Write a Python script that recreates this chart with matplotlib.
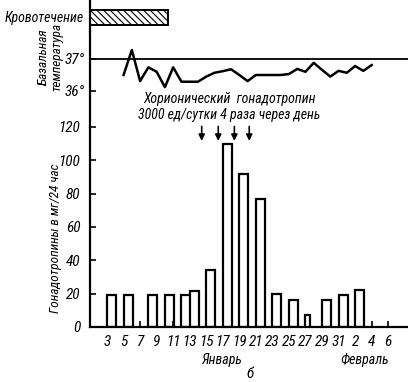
import matplotlib
matplotlib.use("Agg")
import matplotlib.pyplot as plt

plt.rcParams['font.family'] = ['Roboto Condensed', 'DejaVu Sans']
plt.rcParams['font.style'] = 'italic'
plt.rcParams['hatch.linewidth'] = 0.8

# gonadotropins, mg/24 h (day of count, January; 32+ = February)
bar_days = [3, 5, 8, 10, 12, 13, 15, 17, 19, 21, 23, 25, 27, 29, 31, 33]
bar_vals = [19, 19, 19.5, 19, 19, 21.5, 34, 110, 92, 77, 20, 16, 7, 16, 19, 22]

# basal temperature
temp_days = list(range(5, 36))
temp_vals = [36.5, 37.28, 36.31, 36.74, 36.6, 36.12, 36.74, 36.29, 36.29, 36.29,
             36.45, 36.57, 36.62, 36.68, 36.5, 36.31, 36.5, 36.5, 36.5, 36.5,
             36.53, 36.69, 36.6, 36.88, 36.66, 36.45, 36.63, 36.57, 36.78, 36.63,
             36.81]

# bleeding period
bleed_start, bleed_end = 0.94, 10.4

# hCG injections
inject_days = [14.45, 16.45, 18.4, 20.2]

tick_days = list(range(3, 38, 2))
tick_labels = ['3', '5', '7', '9', '11', '13', '15', '17', '19', '21', '23',
               '25', '27', '29', '31', '2', '4', '6']

W, H = 408, 382
fig = plt.figure(figsize=(W / 100, H / 100), dpi=100)

def px_axes(left, top, right, bottom):
    return fig.add_axes([left / W, 1 - bottom / H, (right - left) / W, (bottom - top) / H])

xlim = (0.94, 39.4)

# --- bleeding
ax_b = px_axes(90, 0, 408, 32)
ax_b.set_xlim(*xlim)
ax_b.set_ylim(0, 32)
ax_b.barh(32 - 17.5, bleed_end - bleed_start, height=15, left=bleed_start,
          color='white', edgecolor='black', hatch='\\\\\\\\\\', linewidth=1.4)
ax_b.set_xticks([])
ax_b.set_yticks([])
for s in ['top', 'right', 'bottom']:
    ax_b.spines[s].set_visible(False)
ax_b.spines['left'].set_linewidth(1.6)
fig.text(44 / W, 1 - 18 / H, 'Кровотечение', ha='center', va='center', fontsize=10)

# --- temperature
ax_t = px_axes(90, 32, 408, 127)
ax_t.set_xlim(*xlim)
ax_t.set_ylim(37 - (127 - 59) / 32, 37 + (59 - 32) / 32)
ax_t.plot(temp_days, temp_vals, color='black', lw=1.8)
ax_t.axhline(37, color='black', lw=1.3)
ax_t.set_xticks([])
ax_t.set_yticks([36, 37])
ax_t.set_yticklabels(['36°', '37°'], fontsize=11)
ax_t.tick_params(axis='y', direction='in', length=4, width=1.2, pad=4)
for s in ['top', 'right', 'bottom']:
    ax_t.spines[s].set_visible(False)
ax_t.spines['left'].set_linewidth(1.6)
fig.text(50 / W, 1 - 57 / H, 'Базальная\nтемпература', rotation=90,
         ha='center', va='center', fontsize=9.5, linespacing=1.0)

# --- gonadotropins
ax = px_axes(90, 127, 408, 327)
ax.set_xlim(*xlim)
ax.set_ylim(0, 120)
widths = [0.6 if d == 27 else 1.1 for d in bar_days]
ax.bar(bar_days, bar_vals, width=widths, align='edge', color='white',
       edgecolor='black', linewidth=1.6)
ax.set_xticks(tick_days)
ax.set_xticklabels(tick_labels, fontsize=11)
ax.set_yticks(range(0, 121, 20))
ax.tick_params(axis='y', direction='in', length=4, width=1.2, pad=7, labelsize=11)
ax.tick_params(axis='x', direction='in', length=4, width=1.2, pad=6)
for s in ['top', 'right']:
    ax.spines[s].set_visible(False)
ax.spines['left'].set_linewidth(1.6)
ax.spines['bottom'].set_linewidth(1.6)
fig.text(56 / W, 1 - 238 / H, 'Гонадотропины в мг/24 час', rotation=90,
         ha='center', va='center', fontsize=9.5)

for d in inject_days:
    ax.annotate('', xy=(d, 110), xytext=(d, 122),
                arrowprops=dict(arrowstyle='-|>', color='black', lw=1.2,
                                mutation_scale=9),
                annotation_clip=False)

fig.text(229 / W, 1 - 107 / H, 'Хорионический  гонадотропин\n3000 ед/сутки 4 раза через день',
         ha='center', va='center', fontsize=10, linespacing=1.25)
fig.text(222 / W, 1 - 360 / H, 'Январь', ha='center', va='center', fontsize=10)
fig.text(365 / W, 1 - 360 / H, 'Февраль', ha='center', va='center', fontsize=10)
fig.text(250 / W, 1 - 374 / H, 'б', ha='center', va='center', fontsize=11)

fig.savefig('out.png', dpi=100)
